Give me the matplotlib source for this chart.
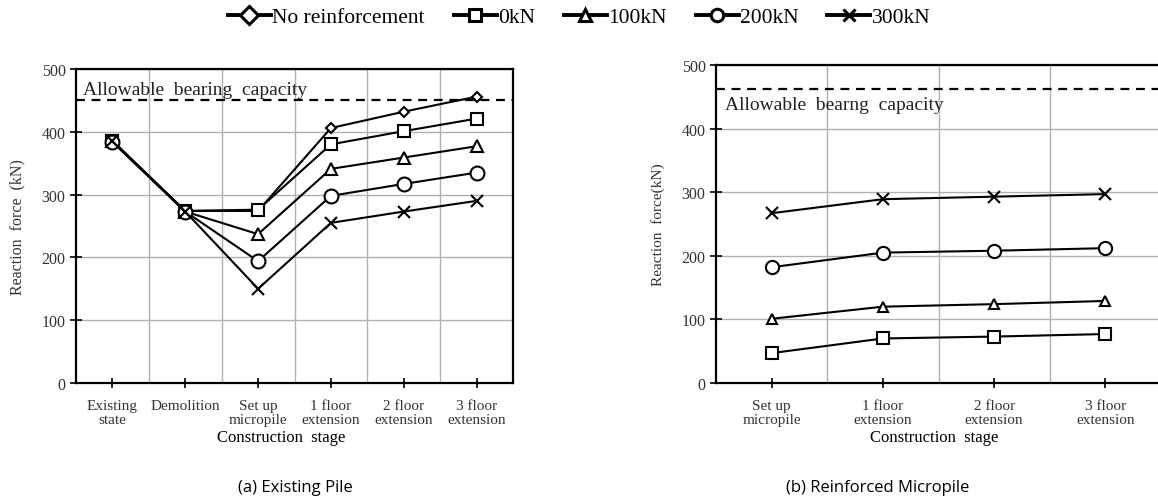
import numpy as np
import matplotlib.pyplot as plt
from matplotlib.lines import Line2D

plt.rcParams['font.family'] = ['Liberation Serif', 'DejaVu Serif']

# (a) existing pile
stages_a = ['Existing\nstate', 'Demolition', 'Set up\nmicropile', '1 floor\nextension',
            '2 floor\nextension', '3 floor\nextension']
no_reinf_a = [384, 274, 274, 406, 432, 456]
kn0_a = [386, 274, 276, 380, 401, 421]
kn100_a = [385, 273, 237, 341, 359, 377]
kn200_a = [384, 273, 194, 298, 317, 335]
kn300_a = [385, 273, 150, 255, 273, 290]
allow_a = 450

# (b) reinforced micropile
stages_b = ['Set up\nmicropile', '1 floor\nextension', '2 floor\nextension', '3 floor\nextension']
kn0_b = [47, 70, 73, 77]
kn100_b = [101, 120, 124, 129]
kn200_b = [182, 205, 208, 212]
kn300_b = [267, 289, 293, 297]
allow_b = 463

labels = ['No reinforcement', '0kN', '100kN', '200kN', '300kN']
markers = ['D', 's', '^', 'o', 'x']
msizes = [5.5, 9, 8, 10, 9]

fig = plt.figure(figsize=(11.58, 5.02), dpi=100)
ax1 = fig.add_axes([76/1158, 1-384/502, 437/1158, 314/502])
ax2 = fig.add_axes([716/1158, 1-384/502, 445/1158, 318/502])


def style(ax, stages):
    n = len(stages)
    ax.set_xlim(-0.5, n - 0.5)
    ax.set_ylim(0, 500)
    ax.set_xticks(range(n))
    ax.set_xticklabels(stages, fontsize=11, color='#333333', linespacing=1.1)
    ax.set_xticks(np.arange(0.5, n - 0.5, 1), minor=True)
    ax.set_yticks(range(0, 501, 100))
    ax.tick_params(axis='y', labelsize=11.5, labelcolor='#333333', direction='inout', length=8, width=1.2)
    ax.tick_params(axis='x', which='major', direction='inout', length=7, width=1.2, pad=8)
    ax.tick_params(axis='x', which='minor', length=0)
    ax.grid(True, axis='y', which='major', color='#b0b0b0', lw=1)
    ax.grid(True, axis='x', which='minor', color='#b0b0b0', lw=1)
    ax.set_axisbelow(True)
    for s in ax.spines.values():
        s.set_linewidth(1.6)
    ax.set_xlabel('Construction  stage', fontsize=12, labelpad=1)


series_a = [no_reinf_a, kn0_a, kn100_a, kn200_a, kn300_a]
for vals, m, ms in zip(series_a, markers, msizes):
    ax1.plot(range(len(stages_a)), vals, color='black', lw=1.5, marker=m, ms=ms,
             mfc='white', mec='black', mew=1.5, zorder=3)
ax1.axhline(allow_a, color='black', ls=(0, (4, 3)), lw=1.6)
ax1.text(-0.4, allow_a + 10, 'Allowable  bearing  capacity', fontsize=14, color='#222222')
style(ax1, stages_a)
ax1.xaxis.set_label_coords(0.47, -0.145)
ax1.set_ylabel('Reaction  force  (kN)', fontsize=11.5, color='#333333', labelpad=12)

series_b = [kn0_b, kn100_b, kn200_b, kn300_b]
for vals, m, ms in zip(series_b, markers[1:], msizes[1:]):
    ax2.plot(range(len(stages_b)), vals, color='black', lw=1.5, marker=m, ms=ms - 0.5,
             mfc='white', mec='black', mew=1.5, zorder=3)
ax2.axhline(allow_b, color='black', ls=(0, (4, 3)), lw=1.6)
ax2.text(-0.42, allow_b - 12, 'Allowable  bearng  capacity', fontsize=14, color='#222222', va='top')
style(ax2, stages_b)
ax2.xaxis.set_label_coords(0.49, -0.145)
ax2.set_ylabel('Reaction  force(kN)', fontsize=11, color='#333333', labelpad=12)

handles = [Line2D([], [], color='black', lw=2.8, marker=m, ms=9, mfc='white', mec='black', mew=2.2)
           for m in markers]
fig.legend(handles, labels, loc='center', bbox_to_anchor=(0.5, 1-18/502), ncol=5, frameon=False,
           fontsize=15.5, handlelength=2.0, handletextpad=0.05, columnspacing=1.35)

fig.text(295/1158, 1-488/502, '(a) Existing Pile', ha='center', va='center', fontsize=12,
         family=['Open Sans', 'DejaVu Sans'])
fig.text(878/1158, 1-488/502, '(b) Reinforced Micropile', ha='center', va='center', fontsize=12,
         family=['Open Sans', 'DejaVu Sans'])

fig.savefig('out.png', dpi=100)
